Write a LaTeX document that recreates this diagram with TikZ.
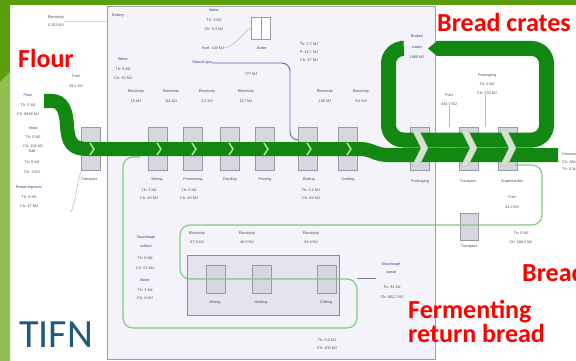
\documentclass[tikz,border=0pt]{standalone}
\usepackage{fontspec}
\setmainfont{Liberation Sans}
\newfontfamily\carlito{Carlito}
\definecolor{frame}{HTML}{5A9E0C}
\definecolor{framelight}{HTML}{8FBF4F}
\definecolor{bakfill}{HTML}{F3F3F9}
\definecolor{bakline}{HTML}{9C9CB0}
\definecolor{boxfill}{HTML}{D6D6DE}
\definecolor{boxline}{HTML}{9A9AA6}
\definecolor{bandgreen}{HTML}{128712}
\definecolor{chevfill}{HTML}{D5E2D2}
\definecolor{chevline}{HTML}{A8B4A8}
\definecolor{chevlight}{HTML}{A6F0A0}
\definecolor{txtgray}{HTML}{505050}
\definecolor{matblue}{HTML}{4040A0}
\definecolor{gasline}{HTML}{6464B4}
\definecolor{retgreen}{HTML}{80C880}
\definecolor{thingray}{HTML}{B8B8C0}
\definecolor{elecyellow}{HTML}{E6DC96}
\definecolor{tifn}{HTML}{1F5A78}
\definecolor{innerfill}{HTML}{E4E4F0}
\definecolor{innerline}{HTML}{8A8AA8}
\begin{document}
\begin{tikzpicture}[x=1pt,y=-1pt]
\tikzset{
 lbl/.style={font=\fontsize{3.8}{8.5}\selectfont, text=txtgray, align=center, inner sep=0pt},
 lsk/.style={font=\fontsize{3.8}{#1}\selectfont},
 mat/.style={lbl, text=matblue},
 proc/.style={draw=boxline, fill=boxfill, line width=0.6pt, minimum width=19pt, minimum height=43pt, inner sep=0pt},
 smallproc/.style={proc, minimum height=28pt},
 band/.style={draw=bandgreen, line width=14pt},
 bigchev/.style={fill=chevfill, draw=chevline, line width=0.4pt},
 smallchev/.style={draw=chevlight, line width=1.4pt},
 redlbl/.style={font=\carlito\bfseries\fontsize{26}{26}\selectfont, text=red, anchor=base west, inner sep=0pt},
 retline/.style={draw=retgreen, line width=1.1pt, rounded corners=10pt},
 thinline/.style={draw=thingray, line width=0.5pt},
}
\useasboundingbox (0,0) rectangle (576,361);
\clip (0,0) rectangle (576,361);
\fill[white] (0,0) rectangle (576,361);
\fill[frame] (0,0) rectangle (576,5);
\fill[frame] (0,0) rectangle (10,361);
\fill[framelight] (0,82) -- (10,72) -- (10,361) -- (0,361) -- cycle;

% bakery area
\filldraw[fill=bakfill, draw=bakline, line width=0.7pt] (107,6) rectangle (435,359);
\node[lbl, anchor=west] (bakery) at (112,16) {Bakery};

% electricity input top left
\node[lbl] (elec0) at (56,21) {Electricity\\0.153 MJ};
\coordinate (bakin) at (107,21);
\draw[elecyellow, line width=0.8pt] (elec0.east) -- (bakin);

% boiler
\node[draw=boxline, fill=white, line width=0.6pt, minimum width=19pt, minimum height=22pt, inner sep=0pt] (boiler) at (261,28) {};
\draw[boxline, line width=0.4pt] (boiler.north) -- (boiler.south);
\node[lbl] (boilerlbl) at (262,48) {Boiler};
\node[lbl] (fuelb) at (213,48) {Fuel: 433 MJ};
\draw[thinline] (fuelb.east) .. controls (238,45) and (244,30) .. (boiler.west);
\node[lbl] (water2) at (214,20) [lsk=9.5] {{\color{matblue}Water}\\Th: 3 MJ\\Ch: 5.4 MJ};
\node[lbl] (water1) at (123,69) [lsk=9.5] {{\color{matblue}Water}\\Th: 0 MJ\\Ch: 15 MJ};

% left inputs
\node[lbl] (fuel0) at (76,81) [lsk=10] {Fuel\\49.1 MJ};
\node[lbl] (flour) at (28,105) [lsk=9.5] {{\color{matblue}Flour}\\Th: 5 MJ\\Ch: 8849 MJ};
\node[lbl] (yeast) at (33,137) [lsk=9] {{\color{matblue}Yeast}\\Th: 0 MJ\\Ch: 104 MJ};
\node[lbl] (salt) at (32,162) [lsk=10.5] {{\color{matblue}Salt}\\Th: 0 MJ\\Ch: 3 MJ};
\node[lbl] (improver) at (29,197) [lsk=9.5] {{\color{matblue}Bread improver}\\Th: 0 MJ\\Ch: 17 MJ};

% process boxes (main line)
\node[proc] (transA) at (91,149) {};
\node[proc] (mixing) at (158,149) {};
\node[proc] (ferment) at (193,149) {};
\node[proc] (dividing) at (230,149) {};
\node[proc] (proving) at (265,149) {};
\node[proc] (baking) at (308,149) {};
\node[proc] (cooling) at (348,149) {};
\node[proc] (packaging) at (419.5,149) {};
\node[proc] (transB) at (469,149) {};
\node[proc] (market) at (507.5,149) {};

\draw[thinline] (transA.south west) .. controls (76,185) and (76,205) .. (70,213);

% box labels
\node[lbl] (ltransA) at (89,180) {Transport};
\node[lbl] (lmixing) at (157,180) {Mixing};
\node[lbl] (lferment) at (193,180) {Fermenting};
\node[lbl] (ldividing) at (230,180) {Dividing};
\node[lbl] (lproving) at (265,180) {Proving};
\node[lbl] (lbaking) at (309,180) {Baking};
\node[lbl] (lcooling) at (348,180) {Cooling};
\node[lbl] (lpack) at (420,182) {Packaging};
\node[lbl] (ltransB) at (468,182) {Transport};
\node[lbl] (lmarket) at (512,182) {Supermarket};
\node[lbl] (emix) at (149,194) [lsk=8] {Th: 3 MJ\\Ch: 48 MJ};
\node[lbl] (eferment) at (189,194) [lsk=8] {Th: 0 MJ\\Ch: 48 MJ};
\node[lbl] (ebaking) at (311,194) [lsk=8] {Th: 0.1 MJ\\Ch: 56 MJ};

% electricity labels
\node[lbl] (el1) at (136,96) [lsk=10] {Electricity\\15 MJ};
\node[lbl] (el2) at (171,96) [lsk=10] {Electricity\\111 MJ};
\node[lbl] (el3) at (207,96) [lsk=10] {Electricity\\2.2 MJ};
\node[lbl] (el4) at (246,96) [lsk=10] {Electricity\\117 MJ};
\node[lbl] (el5) at (325,96) [lsk=10] {Electricity\\135 MJ};
\node[lbl] (el6) at (361,96) [lsk=10] {Electricity\\5.6 MJ};

% natural gas
\node[mat] (gas) at (202,63) {Natural gas};
\node[lbl] (gasval) at (251,74) {777 MJ};
\draw[gasline, line width=0.9pt, rounded corners=8pt] (gas.east) -- (290,63) -- (290,140) -- (baking.west |- 0,140);
\node[lbl] (bakeen) at (309,52) [lsk=8] {Th: 2.7 MJ\\P: 11.7 MJ\\Ch: 37 MJ};

% right labels
\node[lbl] (fuelB) at (449,99.5) [lsk=9] {Fuel\\444.7 MJ};
\node[lbl] (packin) at (487,84) [lsk=9] {Packaging\\Th: 0 MJ\\Ch: 233 MJ};
\coordinate (fuelBend) at (449,127);
\coordinate (packend) at (485,127);
\draw[thinline] (fuelB.south) -- (fuelBend);
\draw[thinline] (packin.south -| packend) -- (packend);
\node[lbl, anchor=west, align=left] (consumer) at (562,162) [lsk=7.5] {Consumer\\Ch: 8849 MJ\\Th: 0 MJ};
\node[lbl] (crates) at (417,47) [lsk=10.5] {{\color{matblue}Broken}\\{\color{matblue}crates}\\1998 MJ};

% return-bread loop
\node[lbl] (fuelC) at (512,202) [lsk=10] {Fuel\\34.2 MJ};
\node[draw=boxline, fill=boxfill, line width=0.6pt, minimum width=18pt, minimum height=27pt, inner sep=0pt] (transC) at (469,226.5) {};
\node[lbl] (ltransC) at (469,247) {Transport};
\node[lbl] (etransC) at (521,237.5) [lsk=9] {Th: 0 MJ\\Ch: 100.5 MJ};

\filldraw[fill=innerfill, draw=innerline, line width=0.6pt] (187,255) rectangle (339,315);
\node[smallproc] (mix2) at (215.5,279) {};
\node[smallproc] (hold) at (261.5,279) {};
\node[smallproc] (chill) at (326.5,279) {};
\node[lbl] (lmix2) at (215,303) {Mixing};
\node[lbl] (lhold) at (261,303) {Holding};
\node[lbl] (lchill) at (326,303) {Chilling};

\draw[retline] (515,165) -- (542,165) -- (542,225) -- (180,225) -- (180,279) -- (357,279) -- (357,328) -- (123,328) -- (123,157) -- (140,157);

\node[lbl] (elL1) at (197,237.5) [lsk=9] {Electricity\\37.5 MJ};
\node[lbl] (elL2) at (247,237.5) [lsk=9] {Electricity\\46.5 MJ};
\node[lbl] (elL3) at (311,237.5) [lsk=9] {Electricity\\34.6 MJ};
\node[mat] (sdin) at (146,242) [lsk=9] {Sourdough\\culture};
\node[lbl] (esdin) at (145,263) [lsk=10] {Th: 0 MJ\\Ch: 52 MJ};
\node[mat] (water3) at (145,280) {Water};
\node[lbl] (ewater3) at (145,294) [lsk=8] {Th: 3 MJ\\Ch: 6 MJ};
\node[mat] (sdout) at (391,268) [lsk=8] {Sourdough\\waste};
\node[lbl] (esdout) at (392,292) [lsk=10] {Th: 54 MJ\\Ch: 682.7 MJ};
\draw[thinline, draw=gray] (357,278.5) -- (376,278.5);
\node[lbl] (eferm2) at (327,344) [lsk=8] {Th: 0.0 MJ\\Ch: 108 MJ};

% main flow bands
\draw[band] (44,101) -- (52,101) .. controls (62,101) and (66,110) .. (67,125) .. controls (68,143) and (72,149) .. (88,149) -- (360,149) .. controls (372,149) and (375,155) .. (388,155) -- (558,155);
\draw[band, line width=15pt, rounded corners=15pt] (400,48.5) -- (388.5,48.5) -- (388.5,140) -- (546.5,140) -- (546.5,48.5) -- (437,48.5);
\fill[bandgreen] (437,41) -- (428,48.5) -- (437,56) -- cycle;

% chevrons
\foreach \c in {420,469,508}
  \filldraw[bigchev] (\c-8,130) -- (\c-1,130) -- (\c+8,148) -- (\c-1,166) -- (\c-8,166) -- (\c+1,148) -- cycle;
\foreach \c in {92,159,194,231,266,309,349}
  \draw[smallchev] (\c-2,143) -- (\c+2,149) -- (\c-2,155);

% big labels
\node[redlbl] (tflour) at (18,68) {Flour};
\node[redlbl] (tcrates) at (437,32) {Bread crates};
\node[redlbl] (tbread) at (522,281) {Bread};
\node[redlbl] (tferm1) at (408,318) {Fermenting};
\node[redlbl] (tferm2) at (408,342) {return bread};
\node[font=\carlito\fontsize{40}{40}\selectfont, text=tifn, anchor=base west, inner sep=0pt] (tifn) at (19,347) {TIFN};
\end{tikzpicture}
\end{document}
